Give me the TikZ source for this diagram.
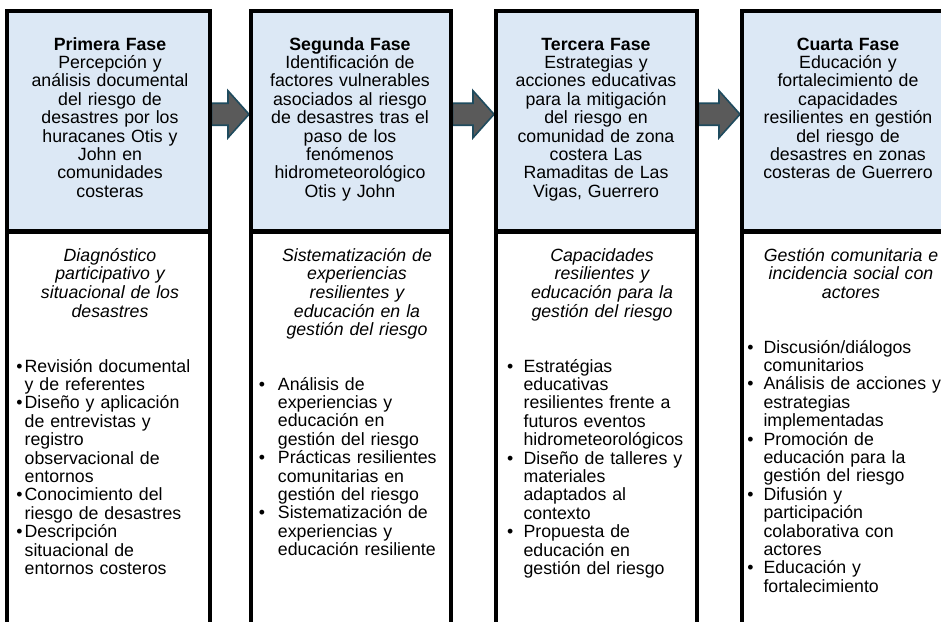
\documentclass[tikz,border=0pt]{standalone}
\usepackage{fontspec}
\setmainfont{Liberation Sans}
\usetikzlibrary{calc}
\definecolor{hdrblue}{HTML}{DCE8F5}
\definecolor{arrfill}{HTML}{5A5A5A}
\definecolor{arrline}{HTML}{1F4B5E}
\newlength\bind
\newcommand\bi{\makebox[\bind][l]{•}}
\newcommand\ci{\hspace*{\bind}}
\newcommand\phasearrow[3]{%
  \coordinate (#3s) at ($(#1.east)+(2,-7)$);
  \coordinate (#3t) at ($(#2.west)+(-2,-7)$);
  \draw[phasearrowst] ($(#3s)+(0,-11)$) -- ($(#3t)+(-21,-11)$) -- ($(#3t)+(-21,-23.5)$) -- (#3t) -- ($(#3t)+(-21,23.5)$) -- ($(#3t)+(-21,11)$) -- ($(#3s)+(0,11)$) -- cycle;}
\tikzset{
  x=0.75pt, y=-0.75pt,
  hdr/.style={fill=hdrblue, draw=none, inner sep=0pt, anchor=north west, minimum height=220*0.75pt},
  bodybox/.style={fill=white, draw=none, inner sep=0pt, anchor=north west, minimum height=420*0.75pt},
  border/.style={line width=3pt, black, line join=miter},
  divider/.style={line width=3.6pt, black},
  phasearrowst/.style={fill=arrfill, draw=arrline, line width=1.2pt, line join=miter},
  txt/.style={inner sep=0pt, font=\fontsize{13.3pt}{13.8pt}\selectfont, text width=205*0.75pt},
  htext/.style={txt, align=center, anchor=base},
  stext/.style={txt, align=center, anchor=base, font=\fontsize{13.3pt}{14pt}\selectfont\itshape},
  ltext/.style={txt, align=left, anchor=base west}
}
\begin{document}
\begin{tikzpicture}
\useasboundingbox (0,0) rectangle (941,621);
\clip (0,0) rectangle (941,621);
% column boxes
\node[hdr, minimum width=202*0.75pt] (h1) at (7,11) {};
\node[hdr, minimum width=199*0.75pt] (h2) at (251,11) {};
\node[hdr, minimum width=200*0.75pt] (h3) at (496,11) {};
\node[hdr, minimum width=204*0.75pt] (h4) at (742,11) {};
\node[bodybox, minimum width=202*0.75pt] (b1) at (h1.south west) {};
\node[bodybox, minimum width=199*0.75pt] (b2) at (h2.south west) {};
\node[bodybox, minimum width=200*0.75pt] (b3) at (h3.south west) {};
\node[bodybox, minimum width=204*0.75pt] (b4) at (h4.south west) {};
% arrows
\phasearrow{h1}{h2}{a1}
\phasearrow{h2}{h3}{a2}
\phasearrow{h3}{h4}{a3}
% borders
\foreach \i in {1,2,3,4}{
  \draw[border] (b\i.south west) -- (h\i.north west) -- (h\i.north east) -- (b\i.south east);
  \draw[divider] (h\i.south west) -- (h\i.south east);
}
% header texts
\node[htext] (t1) at (110,50) {\textbf{Primera Fase}\\Percepción y\\análisis documental\\del riesgo de\\desastres por los\\huracanes Otis y\\John en\\comunidades\\costeras};
\node[htext] (t2) at (350,50) {\textbf{Segunda Fase}\\Identificación de\\factores vulnerables\\asociados al riesgo\\de desastres tras el\\paso de los\\fenómenos\\hidrometeorológico\\Otis y John};
\node[htext] (t3) at (596,50) {\textbf{Tercera Fase}\\Estrategias y\\acciones educativas\\para la mitigación\\del riesgo en\\comunidad de zona\\costera Las\\Ramaditas de Las\\Vigas, Guerrero};
\node[htext] (t4) at (848,50) {\textbf{Cuarta Fase}\\Educación y\\fortalecimiento de\\capacidades\\resilientes en gestión\\del riesgo de\\desastres en zonas\\costeras de Guerrero};
% subtitles
\node[stext] (s1) at (110,261) {Diagnóstico\\participativo y\\situacional de los\\desastres};
\node[stext] (s2) at (357,261) {Sistematización de\\experiencias\\resilientes y\\educación en la\\gestión del riesgo};
\node[stext] (s3) at (602,261) {Capacidades\\resilientes y\\educación para la\\gestión del riesgo};
\node[stext] (s4) at (851,261) {Gestión comunitaria e\\incidencia social con\\actores};
% lists
\node[ltext] (l1) at (16,372) {\setlength\bind{6.3pt}%
\bi Revisión documental\\\ci y de referentes\\\bi Diseño y aplicación\\\ci de entrevistas y\\\ci registro\\\ci observacional de\\\ci entornos\\\bi Conocimiento del\\\ci riesgo de desastres\\\bi Descripción\\\ci situacional de\\\ci entornos costeros};
\node[ltext] (l2) at (258.5,390) {\setlength\bind{14.4pt}%
\bi Análisis de\\\ci experiencias y\\\ci educación en\\\ci gestión del riesgo\\\bi Prácticas resilientes\\\ci comunitarias en\\\ci gestión del riesgo\\\bi Sistematización de\\\ci experiencias y\\\ci educación resiliente};
\node[ltext] (l3) at (506.8,372) {\setlength\bind{12.4pt}%
\bi Estratégias\\\ci educativas\\\ci resilientes frente a\\\ci futuros eventos\\\ci hidrometeorológicos\\\bi Diseño de talleres y\\\ci materiales\\\ci adaptados al\\\ci contexto\\\bi Propuesta de\\\ci educación en\\\ci gestión del riesgo};
\node[ltext] (l4) at (747,353) {\setlength\bind{12.2pt}%
\bi Discusión/diálogos\\\ci comunitarios\\\bi Análisis de acciones y\\\ci estrategias\\\ci implementadas\\\bi Promoción de\\\ci educación para la\\\ci gestión del riesgo\\\bi Difusión y\\\ci participación\\\ci colaborativa con\\\ci actores\\\bi Educación y\\\ci fortalecimiento};
\end{tikzpicture}
\end{document}
